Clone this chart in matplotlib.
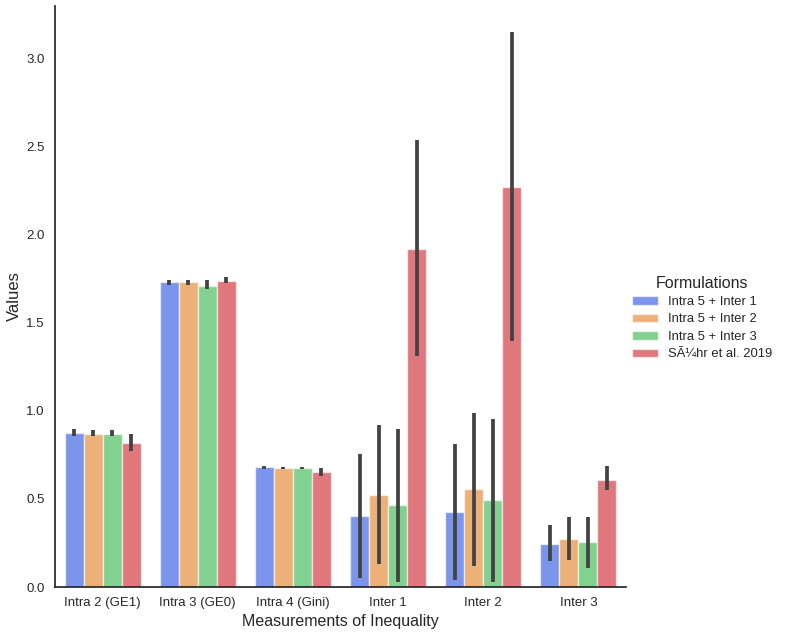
import matplotlib
matplotlib.use("Agg")
import matplotlib.pyplot as plt
import seaborn as sns
import numpy as np

categories = ["Intra 2 (GE1)", "Intra 3 (GE0)", "Intra 4 (Gini)", "Inter 1", "Inter 2", "Inter 3"]
formulations = ["Intra 5 + Inter 1", "Intra 5 + Inter 2", "Intra 5 + Inter 3", "SÃ¼hr et al. 2019"]

# mean values per formulation
means = {
    "Intra 5 + Inter 1": [0.875, 1.73, 0.68, 0.405, 0.425, 0.245],
    "Intra 5 + Inter 2": [0.868, 1.73, 0.675, 0.525, 0.555, 0.275],
    "Intra 5 + Inter 3": [0.868, 1.71, 0.675, 0.465, 0.495, 0.255],
    "SÃ¼hr et al. 2019": [0.82, 1.74, 0.655, 1.92, 2.27, 0.61],
}
# confidence interval lows / highs
ci_low = {
    "Intra 5 + Inter 1": [0.86, 1.715, 0.673, 0.05, 0.04, 0.15],
    "Intra 5 + Inter 2": [0.855, 1.718, 0.668, 0.13, 0.12, 0.155],
    "Intra 5 + Inter 3": [0.855, 1.69, 0.668, 0.03, 0.03, 0.11],
    "SÃ¼hr et al. 2019": [0.77, 1.728, 0.63, 1.31, 1.40, 0.55],
}
ci_high = {
    "Intra 5 + Inter 1": [0.90, 1.745, 0.688, 0.755, 0.81, 0.35],
    "Intra 5 + Inter 2": [0.893, 1.743, 0.683, 0.92, 0.99, 0.40],
    "Intra 5 + Inter 3": [0.893, 1.745, 0.683, 0.895, 0.955, 0.40],
    "SÃ¼hr et al. 2019": [0.87, 1.758, 0.678, 2.54, 3.15, 0.69],
}

sns.set_style("white")
plt.rcParams['font.family'] = ['Liberation Sans', 'DejaVu Sans']

colors = [sns.desaturate(c, 0.75) for c in sns.color_palette("bright", 4)]

fig = plt.figure(figsize=(7.89, 6.36), dpi=100)
ax = fig.add_axes([0.0697, 0.077, 0.7237, 0.9136])

x = np.arange(len(categories))
width = 0.2
handles = []
for i, f in enumerate(formulations):
    pos = x - 0.4 + width * (i + 0.5)
    b = ax.bar(pos, means[f], width=width, color=colors[i], alpha=0.6,
               edgecolor="white", linewidth=1, label=f)
    handles.append(b)
    ax.vlines(pos, ci_low[f], ci_high[f], color="#424242", linewidth=2.7, zorder=3)

ax.set_xlim(-0.5, 5.5)
ax.set_ylim(0, 3.30)
ax.set_yticks([0.0, 0.5, 1.0, 1.5, 2.0, 2.5, 3.0])
ax.set_xticks(x)
ax.set_xticklabels(categories)
ax.tick_params(labelsize=9.5, colors="#262626", length=0, pad=7.5)
ax.set_xlabel("Measurements of Inequality", fontsize=11.5, color="#262626", labelpad=3)
ax.set_ylabel("Values", fontsize=12, color="#262626", labelpad=3)
for s in ["top", "right"]:
    ax.spines[s].set_visible(False)
for s in ["left", "bottom"]:
    ax.spines[s].set_color("#262626")
    ax.spines[s].set_linewidth(1.25)

leg = fig.legend(handles=handles, labels=formulations, title="Formulations",
                 loc="center left", bbox_to_anchor=(0.786, 0.5), frameon=False,
                 fontsize=9.4, title_fontsize=11.5, labelspacing=0.42,
                 handlelength=2.0, handleheight=0.6)

fig.savefig("out.png", dpi=100)
